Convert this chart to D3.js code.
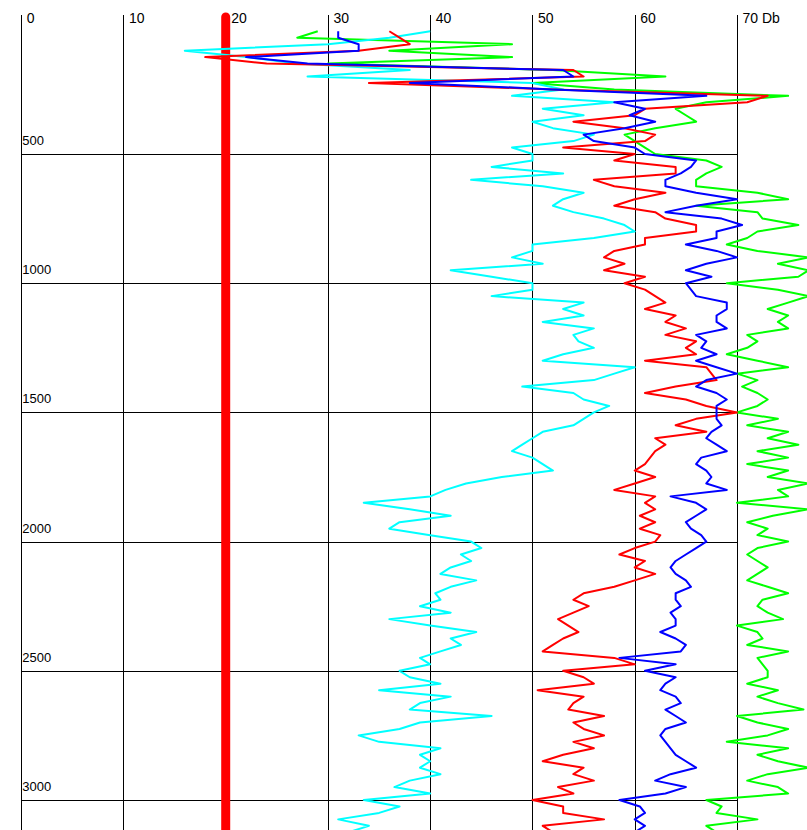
<!DOCTYPE html>
<html>
<head>
<meta charset="utf-8">
<script src="https://cdn.jsdelivr.net/npm/d3@7"></script>
<style>
  html, body { margin: 0; padding: 0; background: #fff; }
  svg { display: block; }
  text { font-family: "Liberation Sans", Arial, sans-serif; fill: #000; }
</style>
</head>
<body>
<svg id="chart" width="807" height="830"></svg>
<script>
// ---- data ----
const xTicks = [0, 10, 20, 30, 40, 50, 60, 70];
const xTickLabels = ["0", "10", "20", "30", "40", "50", "60", "70 Db"];
const yTicks = [500, 1000, 1500, 2000, 2500, 3000];
const yTickLabels = ["500", "1000", "1500", "2000", "2500", "3000"];
const limitValue = 20;

const depth = [25,50,75,100,125,150,175,200,225,250,275,300,325,350,375,400,425,450,475,500,
  525,550,575,600,625,650,675,700,725,750,775,800,825,850,875,900,925,950,975,1000,
  1025,1050,1075,1100,1125,1150,1175,1200,1225,1250,1275,1300,1325,1350,1375,1400,1425,1450,1475,1500,
  1525,1550,1575,1600,1625,1650,1675,1700,1725,1750,1775,1800,1825,1850,1875,1900,1925,1950,1975,2000,
  2025,2050,2075,2100,2125,2150,2175,2200,2225,2250,2275,2300,2325,2350,2375,2400,2425,2450,2475,2500,
  2525,2550,2575,2600,2625,2650,2675,2700,2725,2750,2775,2800,2825,2850,2875,2900,2925,2950,2975,3000,
  3025,3050,3075,3100,3125];

const cyanSeries = [40,36,30,16,22,27,38,28,50,53,48,58,51,55,50,52,56,54,48,50,
  50,46,53,44,51,55,53,52,54,57,59,60,56,50,50,48,51,42,46,50,
  50,46,55,53,55,51,56,54,54.5,56,53,51,60,58,56,49,54,55,57.5,56,
  55,54,51,50,49,48,50,51,52,47,43.5,41.5,40,33.5,38,42,37,36,40,44,
  45,43,44,42,41,44.5,42,40.5,41,39,42,36,40,44.5,42,43,41,39,40,37,
  38,41,35,42,39,38,46,39,37,33,35,41,39,40,39,41,38,36.5,40,33.5,
  37,35,31,34,32];

const redSeries = [36,37,38,33,18,24,54,55,34,52,73,71,61,60,54,59,62,61,53,60,
  58,64,64,56,58,63,60,58,62,63,66,66,61,61,58,57,59,57,61,59,
  61,62,63,61,64,63,65,63,66,65,66,61,67,67.5,68,64,61,65,67,70,
  66,64,67,62,63,62,61.5,61,60,62,60,58,62,61,62,60.5,62,60.5,62.5,62,
  60,58.5,61,60,62,60,58,55,54,55.5,54,52.5,53.5,54.5,53,52,51,58,60,53,
  55,56,50.5,55,54,53.5,57,54,55,57,54,56,53,51,55,54,56,52.5,54,50,
  53,53,57,51,52];

const blueSeries = [31,31,33,33,22,28,53,54,38,52,67,58,61,59.5,62,59,55,56,60,61,
  66,65.5,64.5,63,63,66,70,66,63,68.5,70.5,68,68,65,68,70,67,65,67.5,65,
  65.5,66,69,69,68,68,69,66,67,66.5,68,66,68,70,67,66,68,69,68,68,
  68,68.5,67.5,67,68,69,66.5,66,67,67.5,67,69,63.5,66,67,66,65,65.5,66.5,67,
  66,65,64,63.5,64,65,65.5,64,64,64.5,63.5,64,64,62.5,64,65,64.5,58.5,64,61,
  64,63,62.5,64,64.5,63,64,65,63,62.5,63,63.5,64,65,66,63.5,62,65,63,58.5,
  60.5,61,60,61,60];

const greenSeries = [29,27,48,36,48,30,52,63,50,58,75,67,64,65,66,62,59,60,61,62,
  67,68.5,67,66,66,72,75,66,72,72.5,76,72,71,69,72,77,74,77,76,69,
  74,77,75,73,75,74,75,71,72,71,69,72,75,70,72,70.5,72,73,72,70,
  74,71,75,73,76,72,75,71,75,73,77,74,75,70,77,73.5,71,73,72,75,
  72,71,72,73,72,71,73,75,72.5,72,73,74.5,70,72,72.5,71,75,72,72.5,73,
  73,71,74,72,74,76.5,70,72,75,73,69,75,72,74,77,73,71,74,75,67,
  68.5,68,72,67,68];

const seriesList = [
  { name: "green", values: greenSeries, color: "#00ff00" },
  { name: "cyan",  values: cyanSeries,  color: "#00ffff" },
  { name: "red",   values: redSeries,   color: "#ff0000" },
  { name: "blue",  values: blueSeries,  color: "#0000ff" }
];

// ---- chart ----
const W = 807, H = 830;
const svg = d3.select("#chart");
svg.append("rect").attr("width", W).attr("height", H).attr("fill", "#fff");

const x = d3.scaleLinear().domain([0, 70]).range([21.2, 737]);
const y = d3.scaleLinear().domain([0, 3000]).range([24.8, 800]);

const grid = svg.append("g").attr("shape-rendering", "crispEdges");
// vertical lines
grid.selectAll("line.v").data(xTicks).join("line")
  .attr("class", "v")
  .attr("x1", d => Math.round(x(d)) + 0.5).attr("x2", d => Math.round(x(d)) + 0.5)
  .attr("y1", 15).attr("y2", H)
  .attr("stroke", "#000").attr("stroke-width", 1);
// horizontal lines
grid.selectAll("line.h").data(yTicks).join("line")
  .attr("class", "h")
  .attr("x1", Math.round(x(0))).attr("x2", Math.round(x(70)) + 1)
  .attr("y1", d => Math.round(y(d)) + 0.5).attr("y2", d => Math.round(y(d)) + 0.5)
  .attr("stroke", "#000").attr("stroke-width", 1);

// top labels
svg.selectAll("text.xl").data(xTicks).join("text")
  .attr("class", "xl")
  .attr("x", d => x(d) + 5.5)
  .attr("y", 23)
  .attr("font-size", 14)
  .text((d, i) => xTickLabels[i]);

// left labels
svg.selectAll("text.yl").data(yTicks).join("text")
  .attr("class", "yl")
  .attr("x", x(0) + 1)
  .attr("y", d => y(d) - 9)
  .attr("font-size", 13)
  .text((d, i) => yTickLabels[i]);

// thick red limit line
svg.append("line")
  .attr("x1", x(limitValue)).attr("x2", x(limitValue))
  .attr("y1", 17).attr("y2", H + 10)
  .attr("stroke", "#ff0000").attr("stroke-width", 9)
  .attr("stroke-linecap", "round");

// series
const line = d3.line()
  .x(d => x(d[1]))
  .y(d => y(d[0]));

svg.append("g").selectAll("path").data(seriesList).join("path")
  .attr("d", s => line(depth.map((dp, i) => [dp, s.values[i]])))
  .attr("fill", "none")
  .attr("stroke", s => s.color)
  .attr("stroke-width", 2)
  .attr("stroke-linejoin", "round");
</script>
</body>
</html>
